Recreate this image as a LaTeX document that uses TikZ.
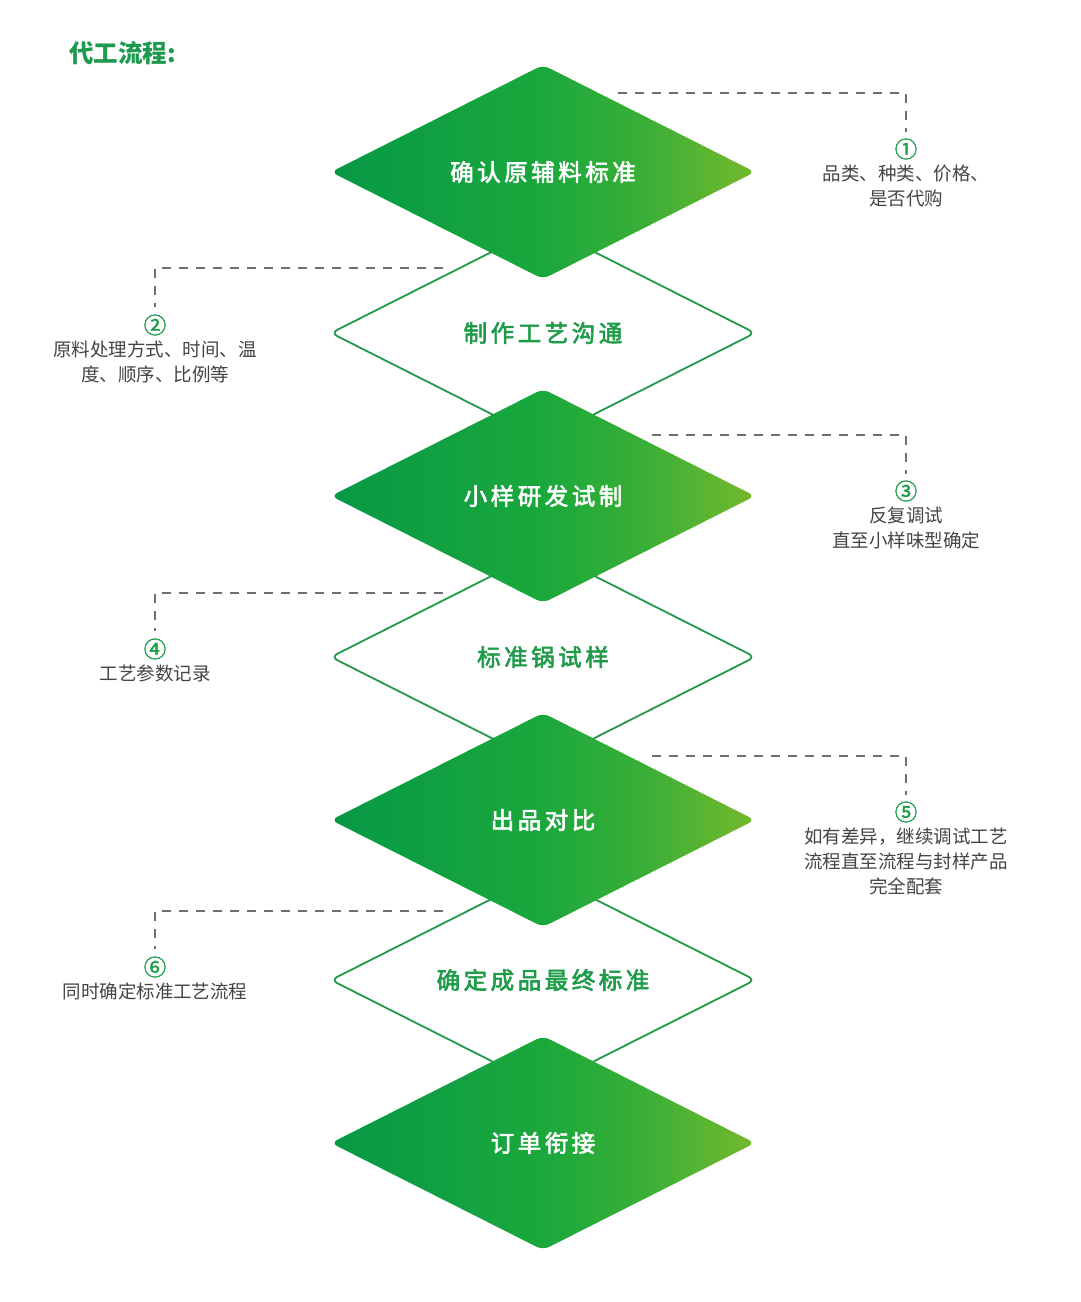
\documentclass[tikz,border=0pt]{standalone}
\usepackage{fontspec}
\setmainfont{Noto Sans CJK SC}
\newfontfamily\cjk{Noto Sans CJK SC}
\newfontfamily\cjkwide[LetterSpace=15,FakeBold=2.6]{Noto Sans CJK SC}
\newfontfamily\cjknum[FakeBold=1.5]{Noto Sans CJK SC}
\definecolor{gA}{HTML}{079845}
\definecolor{gB}{HTML}{1AA83C}
\definecolor{gC}{HTML}{3AAF37}
\definecolor{gD}{HTML}{74B92C}
\definecolor{lineG}{HTML}{22994A}
\definecolor{txtG}{HTML}{1F9B4A}
\definecolor{titleG}{HTML}{1E9A4E}
\definecolor{dashG}{HTML}{707070}
\definecolor{noteT}{HTML}{444444}
\pgfdeclarehorizontalshading{dgreen}{100bp}{color(0bp)=(gA); color(25bp)=(gA); color(50bp)=(gB); color(62bp)=(gC); color(75bp)=(gD); color(100bp)=(gD)}
\begin{document}
\begin{tikzpicture}[x=1pt,y=-1pt,
  filledtxt/.style={text=white,font=\cjkwide\fontsize{23.5}{26}\selectfont,inner sep=0pt},
  outlinetxt/.style={text=txtG,font=\cjkwide\fontsize{23.5}{26}\selectfont,inner sep=0pt},
  dashline/.style={draw=dashG,line width=1.3pt,dash pattern=on 9pt off 8pt},
  numtxt/.style={text=txtG,font=\cjknum\fontsize{22.5}{23}\selectfont,inner sep=0pt},
  notetxt/.style={text=noteT,font=\cjk\fontsize{18.5}{25}\selectfont,align=center,inner sep=0pt},
  outlinediamond/.style={draw=lineG,line width=1.8pt,fill=white,rounded corners=7pt},
  filldiamond/.style={shading=dgreen,rounded corners=7pt}]
\fill[white] (0,0) rectangle (1080,1302);
\useasboundingbox (0,0) rectangle (1080,1302);
% title
\node[anchor=west,text=titleG,font=\cjk\bfseries\fontsize{24.5}{26}\selectfont,inner sep=0pt] (title) at (69,53) {代工流程:};
% outline diamonds
\foreach \cy in {333,657,980}{
  \path[outlinediamond] (331,\cy) -- (543,\cy-107) -- (755,\cy) -- (543,\cy+107) -- cycle;
}
% filled diamonds
\foreach \cy in {172,496,820,1143}{
  \shade[filldiamond] (331,\cy) -- (543,\cy-107) -- (755,\cy) -- (543,\cy+107) -- cycle;
}
% diamond texts
\node[filledtxt] (d1) at (543,172) {确认原辅料标准};
\node[outlinetxt] (d2) at (543,333) {制作工艺沟通};
\node[filledtxt] (d3) at (543,496) {小样研发试制};
\node[outlinetxt] (d4) at (543,657) {标准锅试样};
\node[filledtxt] (d5) at (543,820) {出品对比};
\node[outlinetxt] (d6) at (543,980) {确定成品最终标准};
\node[filledtxt] (d7) at (543,1143) {订单衔接};
% annotation numbers
\node[numtxt] (n1) at (906,149) {①};
\node[numtxt] (n2) at (155,325) {②};
\node[numtxt] (n3) at (906,491) {③};
\node[numtxt] (n4) at (155,649) {④};
\node[numtxt] (n5) at (906,812) {⑤};
\node[numtxt] (n6) at (155,967) {⑥};
% annotation texts
\node[notetxt,anchor=north] (t1) at (906,165) {品类、种类、价格、\\是否代购};
\node[notetxt,anchor=north] (t2) at (155,341) {原料处理方式、时间、温\\度、顺序、比例等};
\node[notetxt,anchor=north] (t3) at (906,507) {反复调试\\直至小样味型确定};
\node[notetxt,anchor=north] (t4) at (155,665) {工艺参数记录};
\node[notetxt,anchor=north] (t5) at (906,828) {如有差异，继续调试工艺\\流程直至流程与封样产品\\完全配套};
\node[notetxt,anchor=north] (t6) at (155,983) {同时确定标准工艺流程};
% dashed connector starts
\coordinate (s1) at (618,93);
\coordinate (s2) at (443,268);
\coordinate (s3) at (652,435);
\coordinate (s4) at (443,593);
\coordinate (s5) at (652,756);
\coordinate (s6) at (443,911);
\coordinate (e1) at (906,132);
\coordinate (e2) at (155,307);
\coordinate (e3) at (906,474);
\coordinate (e4) at (155,631);
\coordinate (e5) at (906,795);
\coordinate (e6) at (155,949);
\draw[dashline] (s1) -| (e1);
\draw[dashline] (s2) -| (e2);
\draw[dashline] (s3) -| (e3);
\draw[dashline] (s4) -| (e4);
\draw[dashline] (s5) -| (e5);
\draw[dashline] (s6) -| (e6);
\end{tikzpicture}
\end{document}
